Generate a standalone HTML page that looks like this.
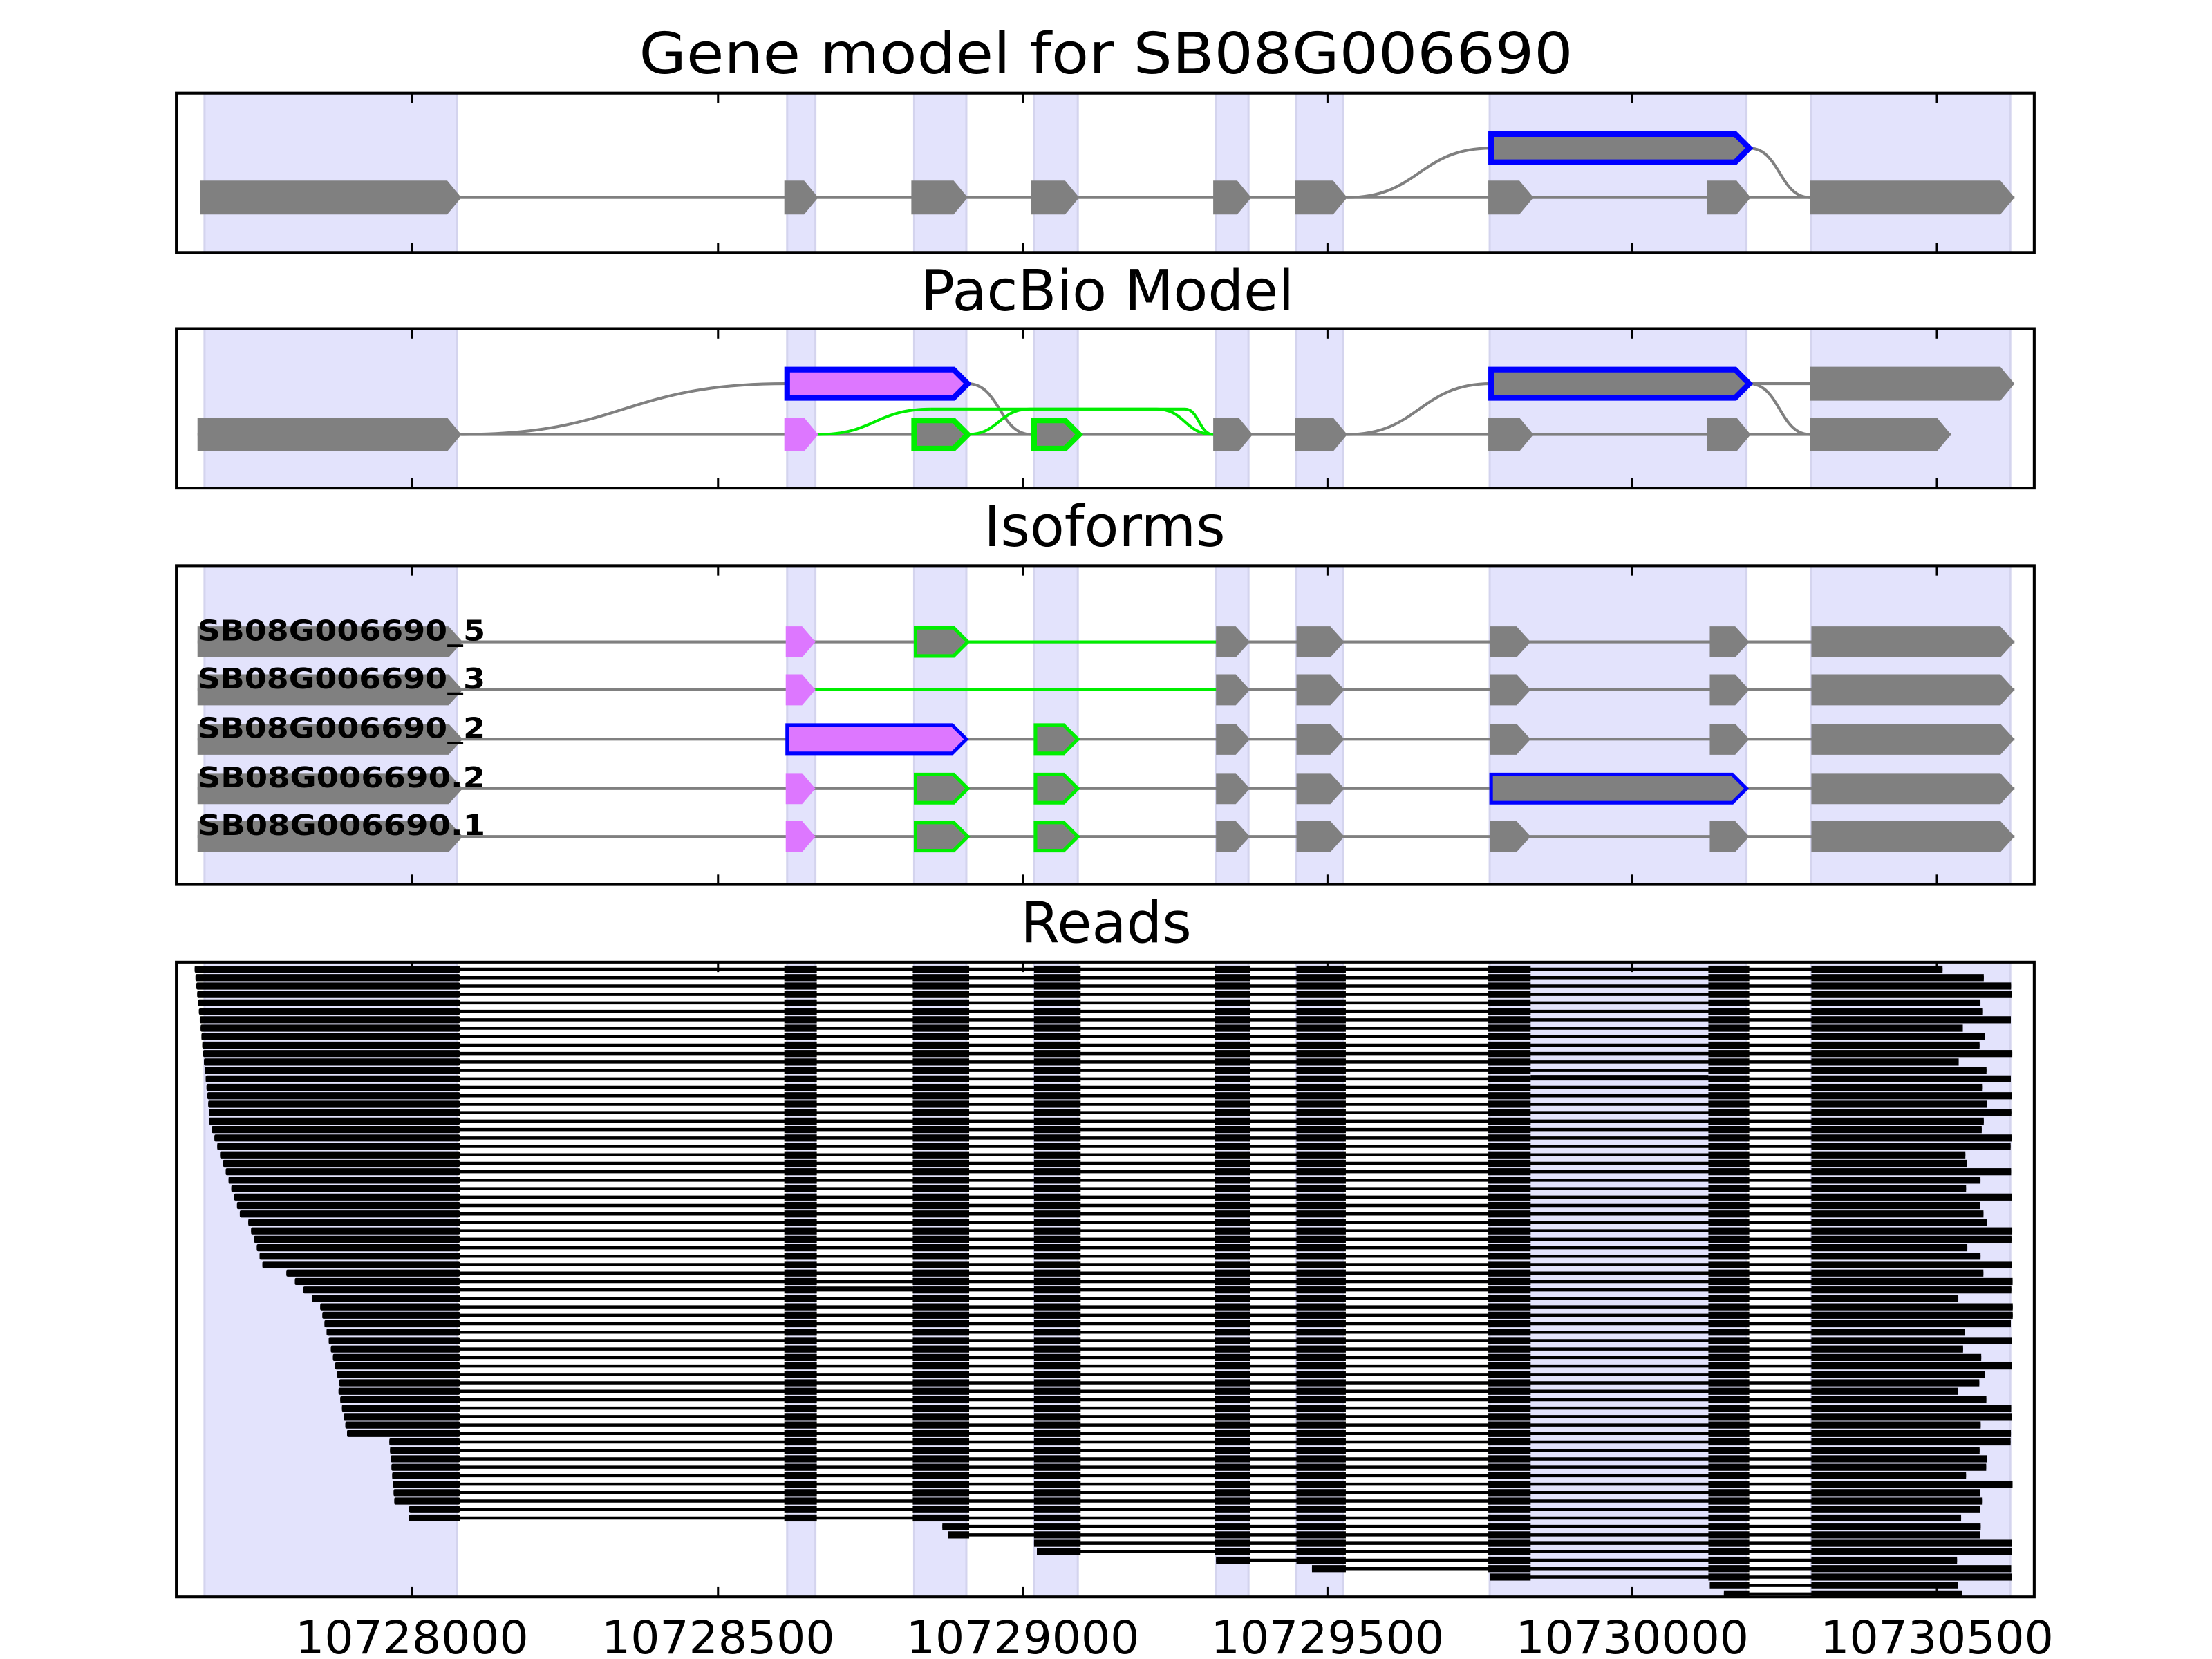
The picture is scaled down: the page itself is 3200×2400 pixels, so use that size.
<!DOCTYPE html>
<html><head><meta charset="utf-8"><style>html,body{margin:0;padding:0;background:#fff}svg{display:block}</style></head>
<body>
<svg id="s" xmlns="http://www.w3.org/2000/svg" width="3200" height="2400" viewBox="0 0 1568 1176" font-family="'DejaVu Sans','Liberation Sans',sans-serif">
<rect width="1568" height="1176" fill="#fff"/>
<g id="bands"></g>
<g id="content"></g>
<g id="frames" fill="none" stroke="#000" stroke-width="2">
<rect x="125" y="66" width="1317" height="113"/>
<rect x="125" y="233" width="1317" height="113"/>
<rect x="125" y="401" width="1317" height="226"/>
<rect x="125" y="682" width="1317" height="450"/>
</g>
<g id="ticks" stroke="#000" stroke-width="1.5"></g>
<g font-size="40" text-anchor="middle" fill="#000">
<text x="784" y="52" textLength="662" lengthAdjust="spacingAndGlyphs">Gene model for SB08G006690</text>
<text x="785" y="220">PacBio Model</text>
<text x="783" y="387">Isoforms</text>
<text x="784" y="668">Reads</text>
</g>
<g font-size="32.5" text-anchor="middle" fill="#000">
<text x="292" y="1172">10728000</text>
<text x="509" y="1172">10728500</text>
<text x="725" y="1172">10729000</text>
<text x="941" y="1172">10729500</text>
<text x="1157" y="1172">10730000</text>
<text x="1373" y="1172">10730500</text>
</g>
</svg>
<script>
var NS="http://www.w3.org/2000/svg";
function el(p,t,a){var e=document.createElementNS(NS,t);for(var k in a)e.setAttribute(k,a[k]);document.getElementById(p).appendChild(e);return e;}
var bands=[[145,324],[558,578],[648,685],[733,764],[862,885],[919,952],[1056,1238],[1284,1425]];
var panels=[[66,179],[233,346],[401,627],[682,1132]];
panels.forEach(function(p){bands.forEach(function(b){el("bands","rect",{x:b[0],y:p[0],width:b[1]-b[0],height:p[1]-p[0],fill:"#e3e3fc",stroke:"#d4d4ee","stroke-width":1.5});});});
var tx=[292,509,725,941,1157,1373];
panels.forEach(function(p){tx.forEach(function(x){el("ticks","line",{x1:x,y1:p[0],x2:x,y2:p[0]+7});el("ticks","line",{x1:x,y1:p[1],x2:x,y2:p[1]-7});});});
function exon(x1,x2,y,h,fill,stroke,sw){
  var tip=Math.min(10,(x2-x1)*0.45);
  var pts=[[x1,y-h],[x2-tip,y-h],[x2,y],[x2-tip,y+h],[x1,y+h]].map(function(a){return a.join(",")}).join(" ");
  el("content","polygon",{points:pts,fill:fill,stroke:stroke||"none","stroke-width":sw||0});
}
function line(x1,x2,y,c,w){el("content","line",{x1:x1,y1:y,x2:x2,y2:y,stroke:c||"#808080","stroke-width":w||2});}
function curve(x1,y1,x2,y2,c,w){var m=(x1+x2)/2;el("content","path",{d:"M"+x1+","+y1+" C"+m+","+y1+" "+m+","+y2+" "+x2+","+y2,fill:"none",stroke:c||"#808080","stroke-width":w||2});}
var G="#808080",M="#dd77ff",GR="#00ee00",B="#0000ff";
// Panel 1
line(142,1428,140);
[[142,327],[556,580],[646,686],[731,765],[860,887],[918,955],[1055,1087],[1210,1241],[1283,1428]].forEach(function(e){exon(e[0],e[1],140,12,G);});
curve(955,140,1057,105);curve(1240,105,1283,140);
exon(1057,1240,105,10,G,B,4);
// Panel 2
line(140,1383,308);
curve(327,308,557,272);
curve(686,272,731,308);
curve(1240,272,1283,308);
curve(955,308,1057,272);
line(1240,1283,272);
curve(580,308,660,290,GR,2);line(660,840,290,GR,2);curve(840,290,860,308,GR,2);
curve(686,308,730,290,GR,2);line(730,820,290,GR,2);curve(820,290,860,308,GR,2);
exon(140,327,308,12,G);exon(556,580,308,12,M);
exon(648,686,308,10,G,GR,4);exon(733,765,308,10,G,GR,4);
[[860,888],[918,955],[1055,1087],[1210,1241],[1283,1383]].forEach(function(e){exon(e[0],e[1],308,12,G);});
exon(558,686,272,10,M,B,4);exon(1057,1240,272,10,G,B,4);exon(1283,1428,272,12,G);
// Panel 3
var ys=[455,489,524,559,593];
var labels=["SB08G006690_5","SB08G006690_3","SB08G006690_2","SB08G006690.2","SB08G006690.1"];
ys.forEach(function(y,i){
  line(140,1428,y);
  exon(140,328,y,11,G);
  if(i==0){line(686,862,y,GR,2);exon(557,578,y,11,M);exon(649,686,y,10,G,GR,2.5);}
  if(i==1){line(578,862,y,GR,2);exon(557,578,y,11,M);}
  if(i==2){exon(558,685,y,10,M,B,2.5);exon(734,764,y,10,G,GR,2.5);}
  if(i>=3){exon(557,578,y,11,M);exon(649,686,y,10,G,GR,2.5);exon(734,764,y,10,G,GR,2.5);}
  exon(862,886,y,11,G);exon(919,953,y,11,G);
  if(i==3){exon(1057,1238,y,10,G,B,2.5);}else{exon(1056,1085,y,11,G);exon(1212,1240,y,11,G);}
  exon(1284,1428,y,11,G);
  var t=el("content","text",{x:140,y:y-1,"font-size":20,"font-weight":"bold",fill:"#000",textLength:204,lengthAdjust:"spacingAndGlyphs"});t.textContent=labels[i];
});
// Reads
var cols=[[556,579],[647,687],[733,766],[861,886],[919,954],[1055,1085],[1211,1240]];
var seed=7;function rnd(){seed=(seed*9301+49297)%233280;return seed/233280;}
var N=75,y0=687,dy=(1082-687)/66;
for(var i=0;i<N;i++){
  var y=y0+i*dy;
  var start,end;
  if(i<66){
    if(i<18)start=138+i*0.6;else if(i<30)start=148+(i-18)*2;else if(i<36)start=176+(i-30)*2;else if(i<40)start=203+(i-36)*6;else if(i<50)start=227+(i-40)*1.5;else if(i<56)start=240+(i-50)*1.2;else if(i<64)start=276+(i-56)*0.5;else start=290;
  } else {
    var s=[668,672,733,735,862,930,1056,1212,1222];start=s[i-66];
  }
  var r=rnd();end=r<0.4?1425+r*5:(r<0.7?1395+r*20:1365+r*30);
  if(i==0)end=1377;
  line(start,end,y,"#000",2.2);
  if(start<326)el("content","rect",{x:start,y:y-2.5,width:326-start,height:5,fill:"#000",rx:1});
  cols.forEach(function(c){if(c[1]>start){var a=Math.max(c[0],start);el("content","rect",{x:a,y:y-2.5,width:c[1]-a,height:5,fill:"#000"});}});
  var a2=Math.max(1284,start);el("content","rect",{x:a2,y:y-2.5,width:end-a2,height:5,fill:"#000"});
}
line(1085,1211,763,"#000",2);line(579,647,913,"#000",2);
</script>
</body></html>
